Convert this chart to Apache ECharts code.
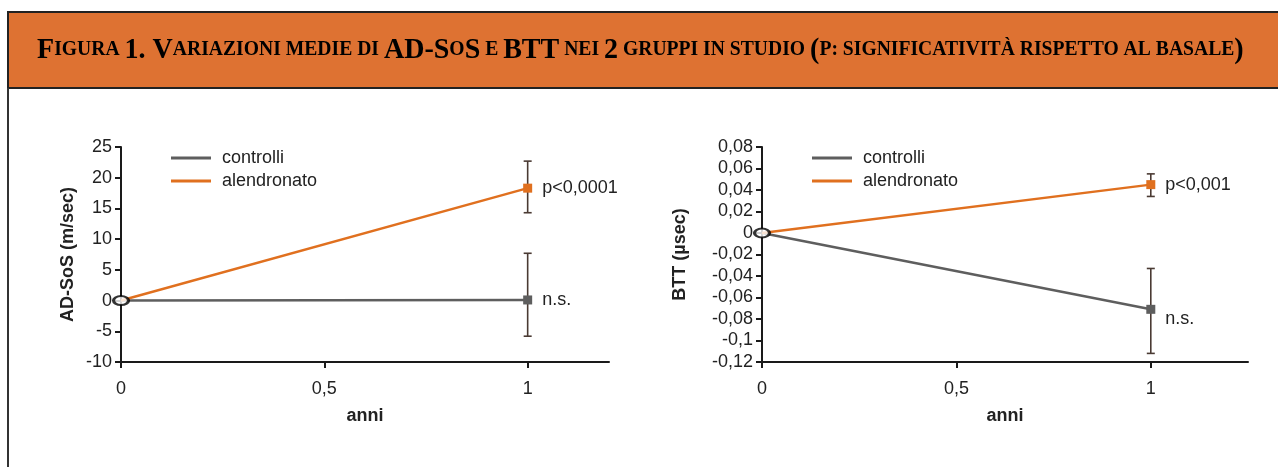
<!DOCTYPE html>
<html><head><meta charset="utf-8">
<script src="https://cdn.jsdelivr.net/npm/echarts@6/dist/echarts.min.js"></script>
<style>html,body{margin:0;padding:0;background:#fff}#c{width:1278px;height:467px}</style>
</head><body><div id="c"></div>
<script>
// ---- data ----
const years = [0, 1];
const seriesNames = ['controlli', 'alendronato'];
const sosControlli = [0, 0.1];
const sosAlendronato = [0, 18.3];
const sosControlliLow = [null, -5.8];
const sosControlliHigh = [null, 7.7];
const sosAlendronatoLow = [null, 14.3];
const sosAlendronatoHigh = [null, 22.7];
const bttControlli = [0, -0.071];
const bttAlendronato = [0, 0.045];
const bttControlliLow = [null, -0.112];
const bttControlliHigh = [null, -0.033];
const bttAlendronatoLow = [null, 0.034];
const bttAlendronatoHigh = [null, 0.055];
const sosLabels = ['n.s.', 'p<0,0001'];
const bttLabels = ['n.s.', 'p<0,001'];
const xTicks = [0, 0.5, 1];

const ORANGE = '#e0701f', GRAY = '#5e5e5e', ERR = '#4a3a33', HEAD = '#de7232';
const FONT = '"Liberation Sans", Arial, sans-serif';

function fmt(v){ return String(+(+v).toFixed(2)).replace('.', ','); }
function pts(xs, ys){ return xs.map((x,i)=>[x, ys[i]]); }
function errData(xs, lo, hi){ return xs.map((x,i)=>[x, lo[i], hi[i]]).filter(d=>d[1]!=null); }

function errSeries(idx, data){
  return {
    type: 'custom', xAxisIndex: idx, yAxisIndex: idx, z: 3, silent: true,
    data: data,
    renderItem: function(params, api){
      const x = api.value(0);
      const p1 = api.coord([x, api.value(1)]);
      const p2 = api.coord([x, api.value(2)]);
      const w = 8;
      const st = {stroke: ERR, lineWidth: 1.6};
      return {type: 'group', children: [
        {type:'line', shape:{x1:p1[0], y1:p1[1], x2:p2[0], y2:p2[1]}, style: st},
        {type:'line', shape:{x1:p1[0]-w/2, y1:p1[1], x2:p1[0]+w/2, y2:p1[1]}, style: st},
        {type:'line', shape:{x1:p2[0]-w/2, y1:p2[1], x2:p2[0]+w/2, y2:p2[1]}, style: st}
      ]};
    }
  };
}
function lineSeries(idx, name, color, data, label, labelOffset){
  return {
    type: 'line', name: name, xAxisIndex: idx, yAxisIndex: idx, z: 4,
    color: color,
    lineStyle: {color: color, width: 2.5},
    symbol: 'rect', symbolSize: 9, showSymbol: true,
    itemStyle: {color: color},
    data: pts(years, data).map((p,i)=> i===0 ? {value:p, symbol:'none'} :
      {value:p, label:{show:true, position:'right', distance:10, offset:labelOffset,
        formatter: label, color:'#222', fontSize:18, fontFamily: FONT}}),
    animation: false
  };
}
function baseSeries(idx){
  return {type:'scatter', xAxisIndex: idx, yAxisIndex: idx, z: 6, silent:true,
    symbol:'circle', symbolSize:[15,9], itemStyle:{color:'#fff', borderColor:'#000', borderWidth:2.5},
    data:[[years[0], 0]]};
}
function xAxis(idx, max){
  return {type:'value', gridIndex: idx, min:0, max:max, interval:0.5,
    name:'anni', nameLocation:'middle', nameGap:45,
    nameTextStyle:{fontWeight:'bold', fontSize:18, color:'#222', fontFamily:FONT},
    axisLine:{onZero:false, lineStyle:{color:'#1a1a1a', width:2}},
    axisTick:{show:true, length:6, lineStyle:{color:'#1a1a1a', width:2}, customValues: xTicks},
    axisLabel:{fontSize:18, color:'#222', fontFamily:FONT, margin:18, formatter: fmt, customValues: xTicks},
    splitLine:{show:false}};
}
function yAxis(idx, min, max, interval, name, gap){
  return {type:'value', gridIndex: idx, min:min, max:max, interval:interval,
    name:name, nameLocation:'middle', nameGap:gap, nameRotate:90,
    nameTextStyle:{fontWeight:'bold', fontSize:18, color:'#222', fontFamily:FONT},
    axisLine:{show:true, onZero:false, lineStyle:{color:'#1a1a1a', width:2}},
    axisTick:{show:true, length:6, lineStyle:{color:'#1a1a1a', width:2}},
    axisLabel:{fontSize:18, color:'#222', fontFamily:FONT, margin:9, formatter: fmt},
    splitLine:{show:false}};
}
function legend(idx, left){
  return {orient:'vertical', left:left, top:144, itemWidth:40, itemHeight:3, itemGap:5,
    icon:'rect', data: seriesNames.map(n=>({name:n})),
    textStyle:{fontSize:18, color:'#222', fontFamily:FONT, padding:[0,0,0,6]}, selectedMode:false};
}

const chart = echarts.init(document.getElementById('c'), null, {renderer:'canvas'});
const rich = {
  b:{fontSize:30, fontWeight:'bold', color:'#fff', fontFamily:'"Liberation Serif", serif'},
  s:{fontSize:21, fontWeight:'bold', color:'#fff', fontFamily:'"Liberation Serif", serif'}
};
const titleText = '{b|F}{s|IGURA }{b|1. V}{s|ARIAZIONI MEDIE DI }{b|AD-S}{s|O}{b|S}{s| E }{b|BTT}{s| NEI }{b|2}{s| GRUPPI IN STUDIO }{b|(}{s|P: SIGNIFICATIVITÀ RISPETTO AL BASALE}{b|)}';

chart.setOption({
  animation:false,
  backgroundColor:'#fff',
  graphic:[
    {type:'rect', shape:{x:8, y:12, width:1290, height:76}, style:{fill:HEAD, stroke:'#222', lineWidth:2}, z:0},
    {type:'line', shape:{x1:8, y1:88, x2:8, y2:470}, style:{stroke:'#333', lineWidth:2}},
    {type:'text', x:37, y:50, scaleX:0.935, style:{text:titleText, rich:rich, verticalAlign:'middle'}, z:2}
  ],
  legend:[legend(0, 166), legend(1, 807)],
  grid:[
    {left:121, top:147, width:488, height:215},
    {left:762, top:147, width:486, height:215}
  ],
  xAxis:[xAxis(0, 1.2), xAxis(1, 1.25)],
  yAxis:[yAxis(0, -10, 25, 5, 'AD-SoS (m/sec)', 44), yAxis(1, -0.12, 0.08, 0.02, 'BTT (µsec)', 73)],
  series:[
    lineSeries(0, seriesNames[0], GRAY, sosControlli, sosLabels[0], [0,0]),
    lineSeries(0, seriesNames[1], ORANGE, sosAlendronato, sosLabels[1], [0,0]),
    errSeries(0, errData(years, sosControlliLow, sosControlliHigh)),
    errSeries(0, errData(years, sosAlendronatoLow, sosAlendronatoHigh)),
    baseSeries(0),
    lineSeries(1, seriesNames[0], GRAY, bttControlli, bttLabels[0], [0,10]),
    lineSeries(1, seriesNames[1], ORANGE, bttAlendronato, bttLabels[1], [0,0]),
    errSeries(1, errData(years, bttControlliLow, bttControlliHigh)),
    errSeries(1, errData(years, bttAlendronatoLow, bttAlendronatoHigh)),
    baseSeries(1)
  ]
});
</script></body></html>
